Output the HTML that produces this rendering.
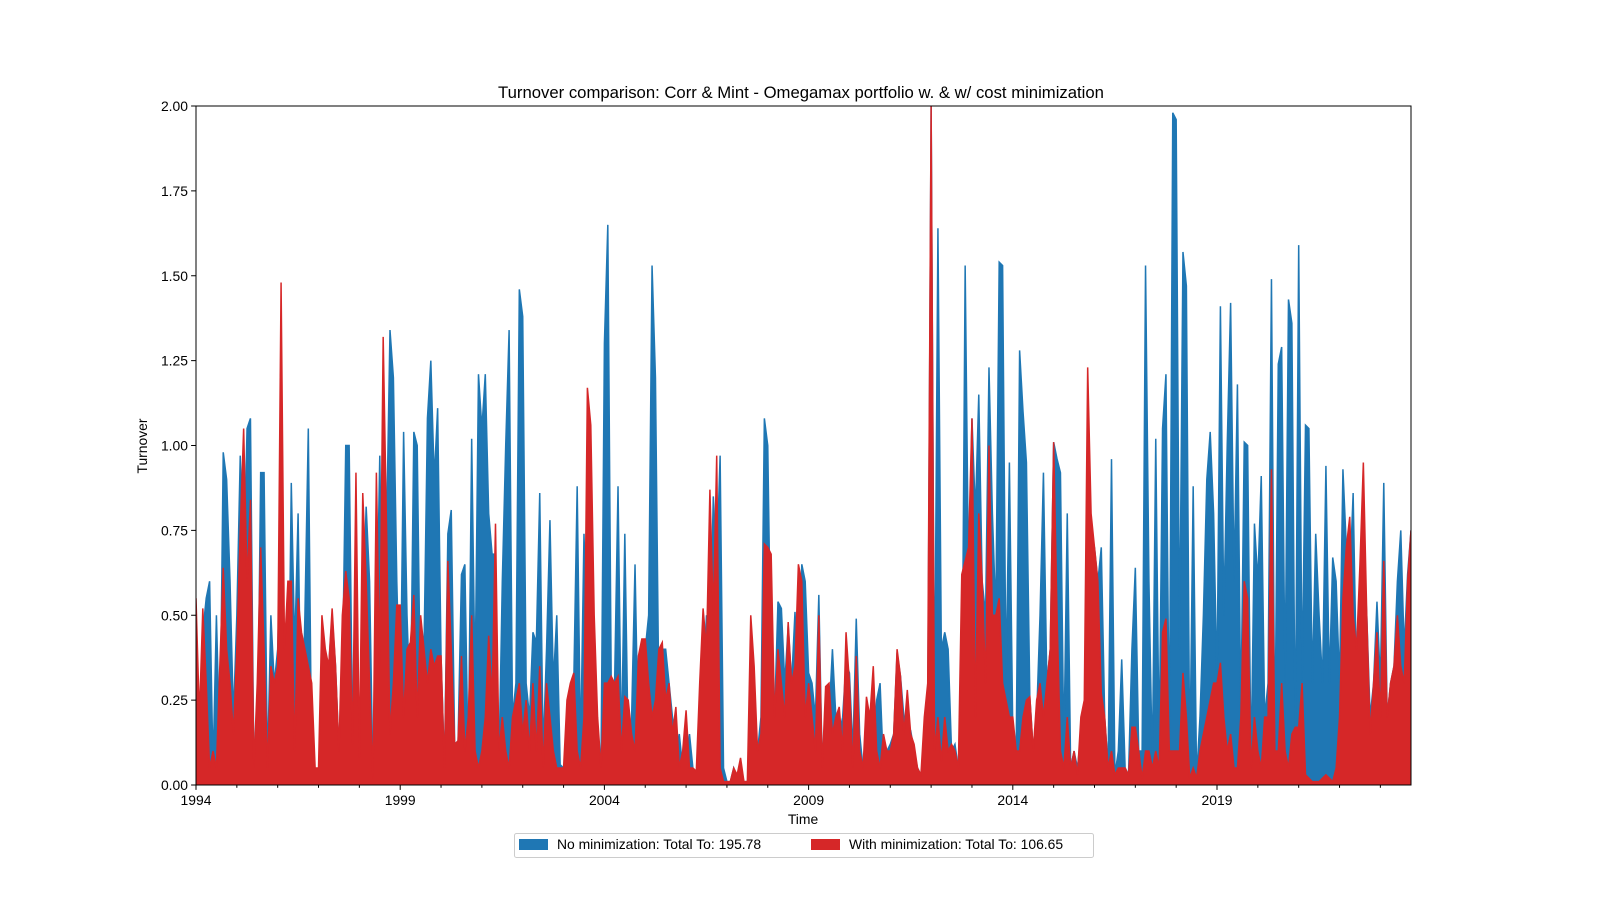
<!DOCTYPE html>
<html><head><meta charset="utf-8"><style>
html,body{margin:0;padding:0;background:#fff;}
svg{display:block;font-family:"Liberation Sans","DejaVu Sans",sans-serif;}
</style></head><body>
<svg id="chart" width="1600" height="900">
<rect x="0" y="0" width="1600" height="900" fill="#fff"/>
<text x="801" y="98" text-anchor="middle" font-size="16.7">Turnover comparison: Corr &amp; Mint - Omegamax portfolio w. &amp; w/ cost minimization</text>
<g id="series"></g>
<g id="axes"></g>
<text x="803" y="824" text-anchor="middle" font-size="13.9">Time</text>
<text transform="translate(147,446) rotate(-90)" text-anchor="middle" font-size="13.9">Turnover</text>
<g>
<rect x="514.5" y="833.5" width="579" height="24" fill="#fff" stroke="#ccc" rx="2"/>
<g>
<rect x="519" y="839" width="29" height="11" fill="#1f77b4"/>
<text x="557" y="849" font-size="13.9">No minimization: Total To: 195.78</text>
</g>
<g>
<rect x="811" y="839" width="29" height="11" fill="#d62728"/>
<text x="849" y="849" font-size="13.9">With minimization: Total To: 106.65</text>
</g>
</g>
</svg>
<script>
const noMin = [
0.40,0.17,0.45,0.55,0.60,0.05,0.50,0.10,0.98,0.90,0.60,0.20,
0.50,0.97,0.60,1.05,1.08,0.05,0.02,0.92,0.92,0.05,0.50,0.30,
0.40,0.76,0.02,0.05,0.89,0.40,0.80,0.05,0.50,1.05,0.05,0.04,
0.04,0.03,0.02,0.35,0.50,0.35,0.10,0.30,1.00,1.00,0.15,0.10,
0.08,0.50,0.82,0.60,0.02,0.40,0.97,0.30,0.75,1.34,1.20,0.60,
0.20,1.04,0.50,0.20,1.04,1.00,0.20,0.40,1.08,1.25,0.90,1.11,
0.38,0.05,0.74,0.81,0.12,0.13,0.62,0.65,0.05,1.02,0.30,1.21,
1.05,1.21,0.80,0.68,0.68,0.05,0.60,1.00,1.34,0.20,0.30,1.46,
1.38,0.30,0.20,0.45,0.42,0.86,0.10,0.40,0.78,0.30,0.50,0.06,
0.05,0.05,0.10,0.30,0.88,0.10,0.74,0.40,0.50,0.30,0.06,0.05,
1.30,1.65,0.30,0.30,0.88,0.10,0.74,0.10,0.20,0.65,0.10,0.20,
0.40,0.50,1.53,1.20,0.25,0.40,0.40,0.30,0.20,0.10,0.15,0.05,
0.05,0.15,0.05,0.04,0.05,0.30,0.50,0.40,0.85,0.65,0.97,0.05,
0.01,0.01,0.05,0.02,0.05,0.01,0.01,0.05,0.25,0.10,0.20,1.08,
1.00,0.30,0.20,0.54,0.52,0.30,0.47,0.30,0.51,0.30,0.65,0.60,
0.33,0.30,0.20,0.56,0.05,0.22,0.20,0.40,0.20,0.15,0.20,0.36,
0.33,0.10,0.49,0.15,0.05,0.15,0.20,0.10,0.25,0.30,0.05,0.10,
0.12,0.15,0.39,0.32,0.20,0.18,0.16,0.10,0.05,0.03,0.03,0.20,
2.00,0.20,1.64,0.40,0.45,0.40,0.10,0.12,0.05,0.10,1.53,0.60,
1.08,0.80,1.15,0.60,0.50,1.23,0.80,0.50,1.54,1.53,0.30,0.95,
0.15,0.10,1.28,1.10,0.95,0.26,0.10,0.20,0.50,0.92,0.30,0.40,
1.01,0.96,0.92,0.10,0.80,0.05,0.10,0.05,0.15,0.20,0.40,0.25,
0.70,0.60,0.70,0.20,0.05,0.96,0.03,0.10,0.37,0.05,0.03,0.40,
0.64,0.10,0.10,1.53,0.60,0.05,1.02,0.10,1.05,1.21,0.10,1.98,
1.96,0.40,1.57,1.47,0.05,0.88,0.02,0.20,0.50,0.90,1.04,0.80,
0.30,1.41,0.50,1.00,1.42,0.60,1.18,0.20,1.01,1.00,0.05,0.77,
0.60,0.91,0.20,0.30,1.49,0.10,1.24,1.29,0.30,1.43,1.36,0.10,
1.59,0.30,1.06,1.05,0.30,0.74,0.50,0.30,0.94,0.30,0.67,0.60,
0.30,0.93,0.70,0.60,0.86,0.30,0.60,0.70,0.50,0.20,0.30,0.54,
0.30,0.89,0.20,0.30,0.35,0.60,0.75,0.40,0.62,0.75
];
const withMin = [
0.55,0.20,0.52,0.30,0.05,0.10,0.05,0.35,0.64,0.40,0.30,0.15,
0.40,0.75,1.05,0.60,0.84,0.05,0.30,0.70,0.40,0.05,0.35,0.30,
0.35,1.48,0.40,0.60,0.60,0.10,0.55,0.45,0.40,0.35,0.30,0.05,
0.05,0.50,0.40,0.35,0.52,0.35,0.10,0.50,0.63,0.55,0.12,0.92,
0.08,0.86,0.60,0.30,0.02,0.92,0.35,1.32,0.75,0.15,0.30,0.53,
0.53,0.20,0.40,0.42,0.56,0.20,0.50,0.40,0.30,0.40,0.35,0.38,
0.38,0.05,0.66,0.40,0.12,0.13,0.38,0.10,0.20,0.50,0.10,0.05,
0.10,0.20,0.44,0.25,0.77,0.10,0.20,0.10,0.05,0.20,0.25,0.30,
0.15,0.25,0.10,0.30,0.10,0.35,0.05,0.30,0.20,0.10,0.05,0.05,
0.05,0.25,0.30,0.33,0.10,0.05,0.20,1.17,1.06,0.50,0.20,0.05,
0.30,0.30,0.32,0.30,0.32,0.10,0.26,0.25,0.15,0.10,0.38,0.43,
0.43,0.30,0.20,0.25,0.40,0.42,0.25,0.30,0.15,0.23,0.05,0.10,
0.22,0.05,0.05,0.04,0.30,0.52,0.40,0.87,0.50,0.97,0.05,0.01,
0.01,0.01,0.05,0.03,0.08,0.01,0.01,0.50,0.35,0.10,0.15,0.71,
0.70,0.68,0.20,0.40,0.30,0.20,0.48,0.30,0.35,0.65,0.60,0.20,
0.30,0.20,0.10,0.50,0.05,0.29,0.30,0.15,0.20,0.23,0.10,0.45,
0.30,0.05,0.38,0.10,0.05,0.26,0.20,0.35,0.10,0.05,0.15,0.10,
0.10,0.15,0.40,0.32,0.15,0.28,0.15,0.12,0.05,0.03,0.20,0.30,
2.00,0.10,0.20,0.07,0.20,0.10,0.12,0.10,0.05,0.62,0.66,0.70,
1.08,0.20,0.80,0.60,0.30,1.00,0.50,0.50,0.55,0.30,0.25,0.20,
0.20,0.10,0.10,0.20,0.25,0.26,0.10,0.25,0.30,0.20,0.30,0.40,
1.01,0.50,0.10,0.05,0.20,0.05,0.10,0.03,0.20,0.25,1.23,0.80,
0.70,0.60,0.27,0.20,0.05,0.10,0.03,0.05,0.05,0.05,0.03,0.17,
0.17,0.10,0.02,0.10,0.10,0.05,0.10,0.05,0.45,0.49,0.10,0.10,
0.10,0.10,0.33,0.20,0.02,0.05,0.02,0.10,0.15,0.20,0.25,0.30,
0.30,0.36,0.20,0.10,0.15,0.05,0.05,0.20,0.60,0.55,0.05,0.20,
0.10,0.05,0.20,0.20,0.93,0.10,0.10,0.30,0.10,0.05,0.15,0.17,
0.17,0.30,0.03,0.02,0.01,0.01,0.01,0.02,0.03,0.02,0.01,0.05,
0.20,0.55,0.70,0.79,0.50,0.40,0.65,0.95,0.50,0.15,0.30,0.45,
0.20,0.66,0.20,0.30,0.35,0.50,0.35,0.30,0.60,0.75
];
const startYear = 1994;
const yTicks = [0, 0.25, 0.5, 0.75, 1.0, 1.25, 1.5, 1.75, 2.0];
const yTickLabels = ["0.00","0.25","0.50","0.75","1.00","1.25","1.50","1.75","2.00"];
const xMajorYears = [1994, 1999, 2004, 2009, 2014, 2019];

const L = 196, R = 1411, T = 106, B = 785;
const N = noMin.length;
function xs(i){ return L + i * (R - L) / (N - 1); }
function ys(v){ return B - v / 2.0 * (B - T); }
function xYear(yr){ return xs((yr - startYear) * 12); }

const NS = "http://www.w3.org/2000/svg";
const series = document.getElementById('series');
const axes = document.getElementById('axes');

function areaPath(arr){
  let d = "M" + xs(0) + "," + ys(0);
  for (let i = 0; i < arr.length; i++) d += " L" + xs(i).toFixed(2) + "," + ys(Math.min(arr[i],2.02)).toFixed(2);
  d += " L" + xs(arr.length - 1) + "," + ys(0) + " Z";
  return d;
}
function linePath(arr){
  let d = "";
  for (let i = 0; i < arr.length; i++) d += (i ? " L" : "M") + xs(i).toFixed(2) + "," + ys(Math.min(arr[i],2.02)).toFixed(2);
  return d;
}
const clip = document.createElementNS(NS, 'clipPath');
clip.setAttribute('id', 'plotclip');
const cr = document.createElementNS(NS, 'rect');
cr.setAttribute('x', L); cr.setAttribute('y', T); cr.setAttribute('width', R - L); cr.setAttribute('height', B - T);
clip.appendChild(cr);
series.appendChild(clip);
series.setAttribute('clip-path', 'url(#plotclip)');

const aBlue = document.createElementNS(NS, 'path');
aBlue.setAttribute('d', areaPath(noMin));
aBlue.setAttribute('fill', '#1f77b4');


series.appendChild(aBlue);
const lBlue = document.createElementNS(NS, 'path');
lBlue.setAttribute('d', linePath(noMin));
lBlue.setAttribute('fill', 'none');
lBlue.setAttribute('stroke', '#1f77b4');
lBlue.setAttribute('stroke-width', '1.5');


series.appendChild(lBlue);

const aRed = document.createElementNS(NS, 'path');
aRed.setAttribute('d', areaPath(withMin));
aRed.setAttribute('fill', '#d62728');


series.appendChild(aRed);
const lRed = document.createElementNS(NS, 'path');
lRed.setAttribute('d', linePath(withMin));
lRed.setAttribute('fill', 'none');
lRed.setAttribute('stroke', '#d62728');
lRed.setAttribute('stroke-width', '1.5');


series.appendChild(lRed);

// frame
const frame = document.createElementNS(NS, 'rect');
frame.setAttribute('x', L); frame.setAttribute('y', T);
frame.setAttribute('width', R - L); frame.setAttribute('height', B - T);
frame.setAttribute('fill', 'none'); frame.setAttribute('stroke', '#000'); frame.setAttribute('stroke-width', '1');


axes.appendChild(frame);

// y ticks
yTicks.forEach((v, k) => {
  const y = ys(v);
  const t = document.createElementNS(NS, 'line');
  t.setAttribute('x1', L - 4.9); t.setAttribute('x2', L); t.setAttribute('y1', y); t.setAttribute('y2', y);
  t.setAttribute('stroke', '#000');
  
  
  axes.appendChild(t);
  const tx = document.createElementNS(NS, 'text');
  tx.setAttribute('x', L - 8); tx.setAttribute('y', y + 5);
  tx.setAttribute('text-anchor', 'end'); tx.setAttribute('font-size', '13.9');
  tx.textContent = yTickLabels[k];
  
  
  axes.appendChild(tx);
});

// x ticks: minor every year, major labelled
for (let yr = startYear; xYear(yr) <= R + 0.5; yr++) {
  const x = xYear(yr);
  const major = xMajorYears.indexOf(yr) >= 0;
  const t = document.createElementNS(NS, 'line');
  t.setAttribute('x1', x); t.setAttribute('x2', x); t.setAttribute('y1', B); t.setAttribute('y2', B + (major ? 4.9 : 2.8));
  t.setAttribute('stroke', '#000');
  
  
  axes.appendChild(t);
  if (major) {
    const tx = document.createElementNS(NS, 'text');
    tx.setAttribute('x', x); tx.setAttribute('y', B + 20);
    tx.setAttribute('text-anchor', 'middle'); tx.setAttribute('font-size', '13.9');
    tx.textContent = String(yr);
    
    
    axes.appendChild(tx);
  }
}
</script>
</body></html>
